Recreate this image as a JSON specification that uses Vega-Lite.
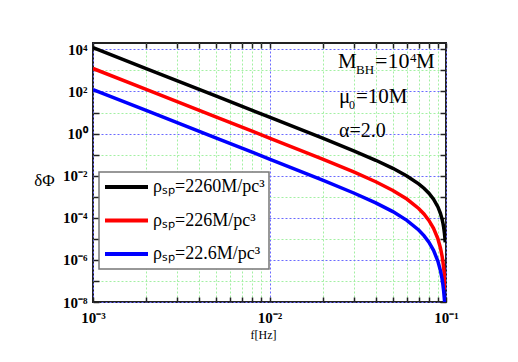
{
  "$schema": "https://vega.github.io/schema/vega-lite/v6.json",
  "width": 353,
  "height": 259,
  "autosize": {"type": "none"},
  "padding": {"left": 93, "top": 43, "right": 72, "bottom": 60},
  "background": "#ffffff",
  "config": {
    "view": {"stroke": "#222222", "strokeWidth": 2},
    "font": "Liberation Serif",
    "legend": {"strokeWidth": 1.5}
  },
  "resolve": {"axis": {"x": "independent", "y": "independent"}},
  "layer": [
    {
      "data": {"name": "curves"},
      "mark": {"type": "line", "strokeWidth": 3.5, "clip": true, "interpolate": "linear"},
      "encoding": {
        "x": {
          "field": "f", "type": "quantitative",
          "scale": {"type": "log", "domain": [0.001, 0.1], "nice": false, "zero": false},
          "axis": {
            "orient": "bottom",
            "values": [0.001,0.002,0.003,0.004,0.005,0.006,0.007,0.008,0.009,0.01,0.02,0.03,0.04,0.05,0.06,0.07,0.08,0.09,0.1],
            "labelExpr": "abs(log(datum.value)/LN10 + 3) < 0.01 ? '10⁻³' : (abs(log(datum.value)/LN10 + 2) < 0.01 ? '10⁻²' : (abs(log(datum.value)/LN10 + 1) < 0.01 ? '10⁻¹' : ''))",
            "labelFlush": false, "labelOverlap": false,
            "labelFont": "Liberation Serif", "labelFontSize": 15, "labelFontWeight": "bold", "labelColor": "#000000",
            "labelPadding": 13,
            "tickSize": -5, "tickColor": "#222222", "tickWidth": 1.5,
            "domain": false,
            "grid": true,
            "gridColor": {"condition": {"test": "abs(log(datum.value)/LN10 - round(log(datum.value)/LN10)) < 0.001", "value": "#6a6aff"}, "value": "#a3f0a3"},
            "gridDash": [2, 2],
            "gridWidth": 1,
            "title": "f[Hz]", "titleFont": "Liberation Serif", "titleFontSize": 12, "titleFontWeight": "normal", "titleColor": "#000000",
            "titleX": 170, "titleY": 36, "titleAlign": "center", "titleBaseline": "alphabetic"
          }
        },
        "y": {
          "field": "v", "type": "quantitative",
          "scale": {"type": "log", "domain": [1e-8, 20000], "nice": false, "zero": false},
          "axis": {
            "orient": "left",
            "values": [1e-8,1e-7,1e-6,1e-5,1e-4,1e-3,1e-2,1e-1,1,10,100,1000,10000],
            "labelExpr": "round(log(datum.value)/LN10) == 4 ? '10⁴' : round(log(datum.value)/LN10) == 2 ? '10²' : round(log(datum.value)/LN10) == 0 ? '10⁰' : round(log(datum.value)/LN10) == -2 ? '10⁻²' : round(log(datum.value)/LN10) == -4 ? '10⁻⁴' : round(log(datum.value)/LN10) == -6 ? '10⁻⁶' : round(log(datum.value)/LN10) == -8 ? '10⁻⁸' : ''",
            "labelFlush": false, "labelOverlap": false,
            "labelFont": "Liberation Serif", "labelFontSize": 15, "labelFontWeight": "bold", "labelColor": "#000000",
            "labelPadding": 12,
            "tickSize": -6, "tickColor": "#222222", "tickWidth": 1.5,
            "domain": false,
            "grid": true,
            "gridColor": {"condition": {"test": "abs(round(log(datum.value)/LN10)) % 2 == 0", "value": "#6a6aff"}, "value": "#a3f0a3"},
            "gridDash": [2, 2],
            "gridWidth": 1,
            "title": "δΦ", "titleFont": "Liberation Serif", "titleFontSize": 17, "titleFontWeight": "normal", "titleColor": "#000000",
            "titleAngle": 0, "titleX": -49, "titleY": 137, "titleAlign": "center", "titleBaseline": "middle"
          }
        },
        "color": {
          "field": "s", "type": "nominal",
          "scale": {"domain": ["2260", "226", "22.6"], "range": ["#000000", "#ff0000", "#0000ff"]},
          "legend": {
            "orient": "none", "legendX": 6, "legendY": 129,
            "title": null,
            "symbolType": "stroke", "symbolSize": 1849, "symbolStrokeWidth": 4,
            "clipHeight": 22, "rowPadding": 11.5, "padding": 4, "labelOffset": 3,
            "labelExpr": "'ρₛₚ=' + datum.label + 'M/pc³'",
            "labelFont": "Liberation Serif", "labelFontSize": 18, "labelColor": "#000000", "labelLimit": 300,
            "strokeColor": "#777777", "fillColor": "#ffffff"
          }
        }
      }
    },
    {
      "data": {"name": "curves"},
      "mark": {"type": "line", "strokeOpacity": 0, "clip": true},
      "encoding": {
        "x": {
          "field": "f", "type": "quantitative",
          "scale": {"type": "log", "domain": [0.001, 0.1], "nice": false, "zero": false},
          "axis": {
            "orient": "top",
            "values": [0.001,0.002,0.003,0.004,0.005,0.006,0.007,0.008,0.009,0.01,0.02,0.03,0.04,0.05,0.06,0.07,0.08,0.09,0.1],
            "labels": false, "grid": false, "domain": false, "title": null,
            "tickSize": -5, "tickColor": "#222222", "tickWidth": 1.5
          }
        },
        "y": {
          "field": "v", "type": "quantitative",
          "scale": {"type": "log", "domain": [1e-8, 20000], "nice": false, "zero": false},
          "axis": {
            "orient": "right",
            "values": [1e-8,1e-7,1e-6,1e-5,1e-4,1e-3,1e-2,1e-1,1,10,100,1000,10000],
            "labels": false, "grid": false, "domain": false, "title": null,
            "tickSize": -6, "tickColor": "#222222", "tickWidth": 1.5
          }
        }
      }
    },
    {
      "data": {"values": [{}]},
      "mark": {"type": "text", "text": "M", "align": "left", "baseline": "alphabetic", "font": "Liberation Serif", "fontSize": 21, "color": "#000000"},
      "encoding": {
        "x": {"datum": 0.02443, "type": "quantitative", "scale": {"type": "log", "domain": [0.001, 0.1]}, "axis": null},
        "y": {"datum": 1300, "type": "quantitative", "scale": {"type": "log", "domain": [1e-8, 20000]}, "axis": null}
      }
    },
    {
      "data": {"values": [{}]},
      "mark": {"type": "text", "text": "BH", "align": "left", "baseline": "alphabetic", "font": "Liberation Serif", "fontSize": 13, "dx": 18, "dy": 6, "color": "#000000"},
      "encoding": {
        "x": {"datum": 0.02443, "type": "quantitative", "scale": {"type": "log", "domain": [0.001, 0.1]}, "axis": null},
        "y": {"datum": 1300, "type": "quantitative", "scale": {"type": "log", "domain": [1e-8, 20000]}, "axis": null}
      }
    },
    {
      "data": {"values": [{}]},
      "mark": {"type": "text", "text": "=10", "align": "left", "baseline": "alphabetic", "font": "Liberation Serif", "fontSize": 22, "dx": 37, "color": "#000000"},
      "encoding": {
        "x": {"datum": 0.02443, "type": "quantitative", "scale": {"type": "log", "domain": [0.001, 0.1]}, "axis": null},
        "y": {"datum": 1300, "type": "quantitative", "scale": {"type": "log", "domain": [1e-8, 20000]}, "axis": null}
      }
    },
    {
      "data": {"values": [{}]},
      "mark": {"type": "text", "text": "4", "align": "left", "baseline": "alphabetic", "font": "Liberation Serif", "fontSize": 13, "dx": 72, "dy": -6, "color": "#000000"},
      "encoding": {
        "x": {"datum": 0.02443, "type": "quantitative", "scale": {"type": "log", "domain": [0.001, 0.1]}, "axis": null},
        "y": {"datum": 1300, "type": "quantitative", "scale": {"type": "log", "domain": [1e-8, 20000]}, "axis": null}
      }
    },
    {
      "data": {"values": [{}]},
      "mark": {"type": "text", "text": "M", "align": "left", "baseline": "alphabetic", "font": "Liberation Serif", "fontSize": 21, "dx": 78, "color": "#000000"},
      "encoding": {
        "x": {"datum": 0.02443, "type": "quantitative", "scale": {"type": "log", "domain": [0.001, 0.1]}, "axis": null},
        "y": {"datum": 1300, "type": "quantitative", "scale": {"type": "log", "domain": [1e-8, 20000]}, "axis": null}
      }
    },
    {
      "data": {"values": [{}]},
      "mark": {"type": "text", "text": "μ", "align": "left", "baseline": "alphabetic", "font": "Liberation Serif", "fontSize": 21, "dx": 1, "color": "#000000"},
      "encoding": {
        "x": {"datum": 0.02443, "type": "quantitative", "scale": {"type": "log", "domain": [0.001, 0.1]}, "axis": null},
        "y": {"datum": 28.3, "type": "quantitative", "scale": {"type": "log", "domain": [1e-8, 20000]}, "axis": null}
      }
    },
    {
      "data": {"values": [{}]},
      "mark": {"type": "text", "text": "0", "align": "left", "baseline": "alphabetic", "font": "Liberation Serif", "fontSize": 12, "dx": 11, "dy": 6, "color": "#000000"},
      "encoding": {
        "x": {"datum": 0.02443, "type": "quantitative", "scale": {"type": "log", "domain": [0.001, 0.1]}, "axis": null},
        "y": {"datum": 28.3, "type": "quantitative", "scale": {"type": "log", "domain": [1e-8, 20000]}, "axis": null}
      }
    },
    {
      "data": {"values": [{}]},
      "mark": {"type": "text", "text": "=10M", "align": "left", "baseline": "alphabetic", "font": "Liberation Serif", "fontSize": 21, "dx": 18, "color": "#000000"},
      "encoding": {
        "x": {"datum": 0.02443, "type": "quantitative", "scale": {"type": "log", "domain": [0.001, 0.1]}, "axis": null},
        "y": {"datum": 28.3, "type": "quantitative", "scale": {"type": "log", "domain": [1e-8, 20000]}, "axis": null}
      }
    },
    {
      "data": {"values": [{}]},
      "mark": {"type": "text", "text": "α=2.0", "align": "left", "baseline": "alphabetic", "font": "Liberation Serif", "fontSize": 20, "dx": 1, "color": "#000000"},
      "encoding": {
        "x": {"datum": 0.02443, "type": "quantitative", "scale": {"type": "log", "domain": [0.001, 0.1]}, "axis": null},
        "y": {"datum": 0.687, "type": "quantitative", "scale": {"type": "log", "domain": [1e-8, 20000]}, "axis": null}
      }
    }
  ],
  "datasets": {
    "curves": [
      {"s": "2260", "f": 0.001, "v": 12020},
      {"s": "2260", "f": 0.002, "v": 1221},
      {"s": "2260", "f": 0.005, "v": 59.34},
      {"s": "2260", "f": 0.01, "v": 6.015},
      {"s": "2260", "f": 0.02, "v": 0.602},
      {"s": "2260", "f": 0.03, "v": 0.1514},
      {"s": "2260", "f": 0.04, "v": 0.05387},
      {"s": "2260", "f": 0.05, "v": 0.02232},
      {"s": "2260", "f": 0.06, "v": 0.009714},
      {"s": "2260", "f": 0.07, "v": 0.004078},
      {"s": "2260", "f": 0.075, "v": 0.002518},
      {"s": "2260", "f": 0.08, "v": 0.001462},
      {"s": "2260", "f": 0.085, "v": 0.0007637},
      {"s": "2260", "f": 0.09, "v": 0.0003267},
      {"s": "2260", "f": 0.093, "v": 0.000161},
      {"s": "2260", "f": 0.095, "v": 0.0000866},
      {"s": "2260", "f": 0.096, "v": 0.00005779},
      {"s": "2260", "f": 0.097, "v": 0.00003522},
      {"s": "2260", "f": 0.098, "v": 0.00001821},
      {"s": "2260", "f": 0.0985, "v": 0.00001181},
      {"s": "2260", "f": 0.099, "v": 0.000006778},
      {"s": "226", "f": 0.001, "v": 1230},
      {"s": "226", "f": 0.002, "v": 124.9},
      {"s": "226", "f": 0.005, "v": 6.073},
      {"s": "226", "f": 0.01, "v": 0.615},
      {"s": "226", "f": 0.02, "v": 0.06112},
      {"s": "226", "f": 0.03, "v": 0.01508},
      {"s": "226", "f": 0.04, "v": 0.005151},
      {"s": "226", "f": 0.05, "v": 0.001993},
      {"s": "226", "f": 0.06, "v": 0.000778},
      {"s": "226", "f": 0.07, "v": 0.0002756},
      {"s": "226", "f": 0.075, "v": 0.0001509},
      {"s": "226", "f": 0.08, "v": 0.00007485},
      {"s": "226", "f": 0.085, "v": 0.0000316},
      {"s": "226", "f": 0.09, "v": 0.00000989},
      {"s": "226", "f": 0.093, "v": 0.000003668},
      {"s": "226", "f": 0.095, "v": 0.000001521},
      {"s": "226", "f": 0.096, "v": 8.52e-7},
      {"s": "226", "f": 0.097, "v": 4.171e-7},
      {"s": "226", "f": 0.098, "v": 1.605e-7},
      {"s": "226", "f": 0.0985, "v": 8.541e-8},
      {"s": "226", "f": 0.099, "v": 3.798e-8},
      {"s": "22.6", "f": 0.001, "v": 123},
      {"s": "22.6", "f": 0.002, "v": 12.49},
      {"s": "22.6", "f": 0.005, "v": 0.6073},
      {"s": "22.6", "f": 0.01, "v": 0.06149},
      {"s": "22.6", "f": 0.02, "v": 0.006108},
      {"s": "22.6", "f": 0.03, "v": 0.001503},
      {"s": "22.6", "f": 0.04, "v": 0.0005113},
      {"s": "22.6", "f": 0.05, "v": 0.0001963},
      {"s": "22.6", "f": 0.06, "v": 0.00007571},
      {"s": "22.6", "f": 0.07, "v": 0.00002632},
      {"s": "22.6", "f": 0.075, "v": 0.00001423},
      {"s": "22.6", "f": 0.08, "v": 0.000006931},
      {"s": "22.6", "f": 0.085, "v": 0.000002858},
      {"s": "22.6", "f": 0.09, "v": 8.638e-7},
      {"s": "22.6", "f": 0.093, "v": 3.104e-7},
      {"s": "22.6", "f": 0.095, "v": 1.279e-7},
      {"s": "22.6", "f": 0.096, "v": 6.87e-8},
      {"s": "22.6", "f": 0.097, "v": 3.282e-8},
      {"s": "22.6", "f": 0.098, "v": 1.222e-8},
      {"s": "22.6", "f": 0.0985, "v": 6.363e-9}
    ]
  }
}
